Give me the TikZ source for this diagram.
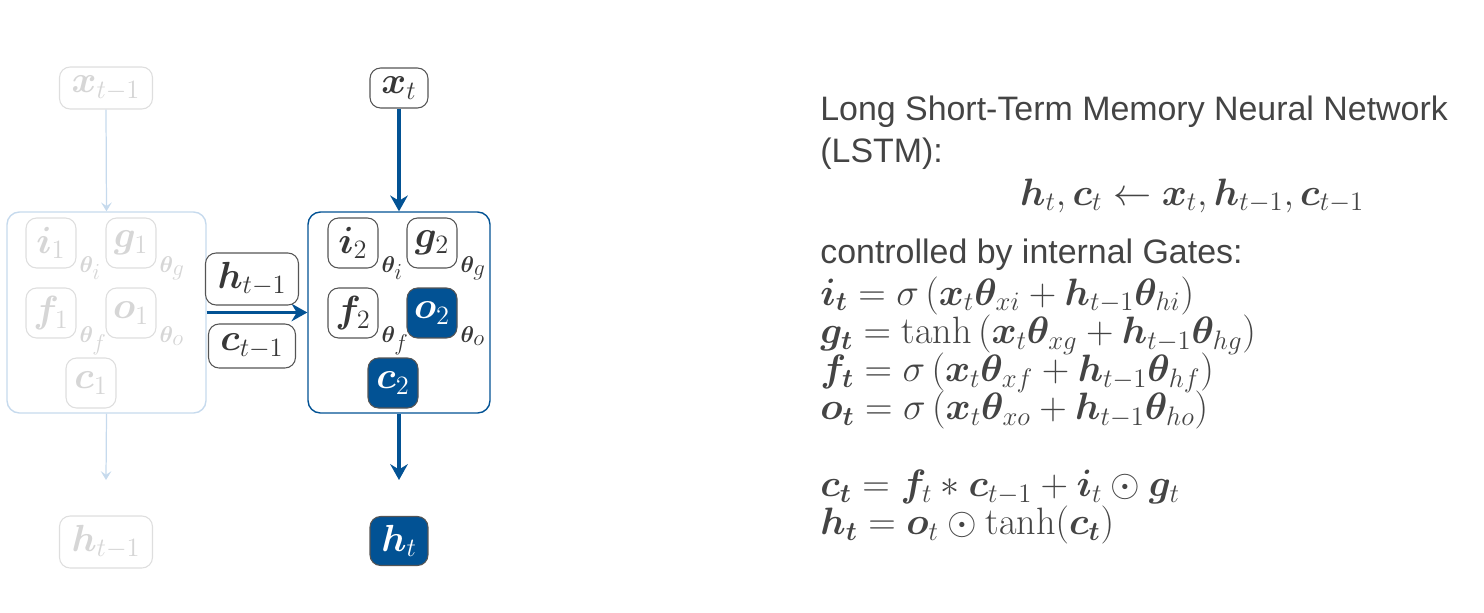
\RequirePackage{fix-cm}
\documentclass[tikz,border=0pt]{standalone}
\usepackage{amsmath,bm}
\usepackage{fontspec}
\setsansfont{Liberation Sans}
\usetikzlibrary{arrows.meta}
\definecolor{myblue}{RGB}{2,82,148}
\definecolor{lightblue}{RGB}{198,218,237}
\definecolor{ghostline}{RGB}{222,222,222}
\definecolor{ghosttext}{RGB}{214,214,214}
\definecolor{darkline}{RGB}{85,85,85}
\definecolor{nodetext}{RGB}{55,55,55}
\definecolor{txtgray}{RGB}{68,68,68}
\tikzset{
  gate/.style={draw=darkline, line width=0.6pt, rounded corners=6pt, inner sep=0pt,
    minimum width=1cm, minimum height=1cm, text=nodetext, fill=white,
    font=\fontsize{21.5}{25}\selectfont},
  ghost/.style={gate, draw=ghostline, text=ghosttext},
  active/.style={gate, fill=myblue, text=white},
  cellbox/.style={draw=myblue, line width=0.8pt, rounded corners=7pt, inner sep=0pt},
  ghostcell/.style={draw=lightblue, line width=0.8pt, rounded corners=7pt, inner sep=0pt},
  thlabel/.style={anchor=base west, inner sep=0pt, font=\fontsize{13}{15}\selectfont},
  bigarrow/.style={draw=myblue, line width=2pt, -{Stealth[length=9pt,width=10pt,inset=3pt]}},
  thinarrow/.style={draw=lightblue, line width=0.7pt, -{Stealth[length=5pt,width=6pt,inset=2pt]}},
  txt/.style={anchor=base west, inner sep=0pt, text=txtgray, font=\sffamily\fontsize{19.3}{23}\selectfont},
  eq/.style={anchor=base west, inner sep=0pt, text=txtgray, font=\fontsize{21.7}{25}\selectfont},
}
\newcommand{\thlab}[1]{$\boldsymbol{\theta}_{\textstyle #1}$}
\begin{document}
\begin{tikzpicture}[x=0.02cm,y=-0.02cm]
\useasboundingbox (0,0) rectangle (1484,612);
% ---- left (ghost) cell ----
\node[ghostcell, minimum width=3.98cm, minimum height=4.02cm] (cell1) at (106.5,312.5) {};
\node[ghost, minimum width=1.86cm, minimum height=0.84cm] (xm1) at (106,88) {$\boldsymbol{x}_{t-1}$};
\node[ghost] (i1) at (51,243) {$\boldsymbol{i}_1$};
\node[ghost] (g1) at (131,243) {$\boldsymbol{g}_1$};
\node[ghost] (f1) at (51,313) {$\boldsymbol{f}_1$};
\node[ghost] (o1) at (131,313) {$\boldsymbol{o}_1$};
\node[ghost] (c1) at (91,383) {$\boldsymbol{c}_1$};
\node[thlabel, text=ghosttext] (thi1) at ([xshift=1.5pt,yshift=-2.3pt]i1.south east) {\thlab{i}};
\node[thlabel, text=ghosttext] (thg1) at ([xshift=1.5pt,yshift=-2.3pt]g1.south east) {\thlab{g}};
\node[thlabel, text=ghosttext] (thf1) at ([xshift=1.5pt,yshift=-2.3pt]f1.south east) {\thlab{f}};
\node[thlabel, text=ghosttext] (tho1) at ([xshift=1.5pt,yshift=-2.3pt]o1.south east) {\thlab{o}};
\node[ghost, minimum width=1.86cm, minimum height=1.04cm] (hm1g) at (106,542) {$\boldsymbol{h}_{t-1}$};
\coordinate (end1) at (106,480);
\draw[thinarrow] (xm1.south) -- (cell1.north);
\draw[thinarrow] (cell1.south) -- (end1);
% ---- right (active) cell ----
\node[cellbox, minimum width=3.64cm, minimum height=4.02cm] (cell2) at (399,312.5) {};
\node[gate, minimum width=1.16cm, minimum height=0.8cm] (xt) at (399,88) {$\boldsymbol{x}_t$};
\node[gate] (i2) at (353,243) {$\boldsymbol{i}_2$};
\node[gate] (g2) at (432,243) {$\boldsymbol{g}_2$};
\node[gate] (f2) at (353,313) {$\boldsymbol{f}_2$};
\node[active] (o2) at (432,313) {$\boldsymbol{o}_2$};
\node[active] (c2) at (393,383) {$\boldsymbol{c}_2$};
\node[thlabel, text=nodetext] (thi2) at ([xshift=1.5pt,yshift=-2.3pt]i2.south east) {\thlab{i}};
\node[thlabel, text=nodetext] (thg2) at ([xshift=1.5pt,yshift=-2.3pt]g2.south east) {\thlab{g}};
\node[thlabel, text=nodetext] (thf2) at ([xshift=1.5pt,yshift=-2.3pt]f2.south east) {\thlab{f}};
\node[thlabel, text=nodetext] (tho2) at ([xshift=1.5pt,yshift=-2.3pt]o2.south east) {\thlab{o}};
\node[active, minimum width=1.16cm, minimum height=0.98cm] (ht) at (399,541) {$\boldsymbol{h}_t$};
\coordinate (end2) at (399,480);
\draw[bigarrow] (xt.south) -- (cell2.north);
\draw[bigarrow] (cell2.south) -- (end2);
% ---- recurrent connection ----
\draw[bigarrow] (cell1.east) -- (cell2.west);
\node[gate, minimum width=1.86cm, minimum height=1.04cm] (hm1) at (252,279) {$\boldsymbol{h}_{t-1}$};
\node[gate, minimum width=1.74cm, minimum height=0.88cm] (cm1) at (252,346) {$\boldsymbol{c}_{t-1}$};
% ---- text ----
\node[txt] (l1) at (820,120) {Long Short-Term Memory Neural Network};
\node[txt] (l2) at (820,162) {(LSTM):};
\node[eq, anchor=base] (l3) at (1192,205) {$\boldsymbol{h}_t, \boldsymbol{c}_t \leftarrow \boldsymbol{x}_t, \boldsymbol{h}_{t-1}, \boldsymbol{c}_{t-1}$};
\node[txt] (l4) at (820,263) {controlled by internal Gates:};
\node[eq] (eqs) at (820,305) {\vtop{\baselineskip=21.8pt\lineskiplimit=-60pt\lineskip=0pt
  \hbox{$\boldsymbol{i_t} = \sigma\left(\boldsymbol{x}_t\boldsymbol{\theta}_{xi} + \boldsymbol{h}_{t-1}\boldsymbol{\theta}_{hi}\right)$}
  \hbox{$\boldsymbol{g_t} = \tanh\left(\boldsymbol{x}_t\boldsymbol{\theta}_{xg} + \boldsymbol{h}_{t-1}\boldsymbol{\theta}_{hg}\right)$}
  \hbox{$\boldsymbol{f_t} = \sigma\left(\boldsymbol{x}_t\boldsymbol{\theta}_{xf} + \boldsymbol{h}_{t-1}\boldsymbol{\theta}_{hf}\right)$}
  \hbox{$\boldsymbol{o_t} = \sigma\left(\boldsymbol{x}_t\boldsymbol{\theta}_{xo} + \boldsymbol{h}_{t-1}\boldsymbol{\theta}_{ho}\right)$}
  \vskip 21.8pt
  \hbox{$\boldsymbol{c_t} = \boldsymbol{f}_t * \boldsymbol{c}_{t-1} + \boldsymbol{i}_t \odot \boldsymbol{g}_t$}
  \hbox{$\boldsymbol{h_t} = \boldsymbol{o}_t \odot \tanh(\boldsymbol{c_t})$}}};
\end{tikzpicture}
\end{document}
